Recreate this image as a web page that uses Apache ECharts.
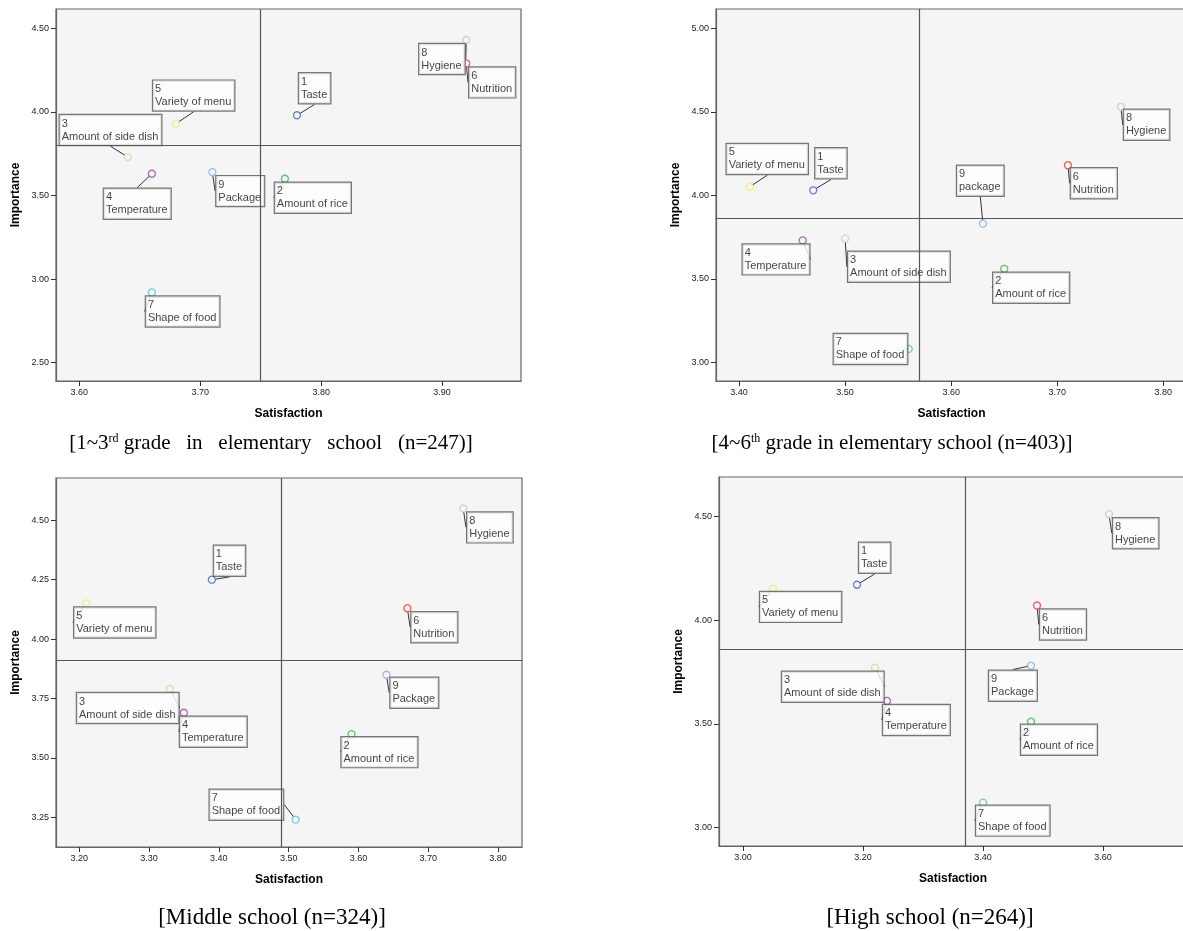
<!DOCTYPE html>
<html><head><meta charset="utf-8">
<script src="https://cdn.jsdelivr.net/npm/echarts@6/dist/echarts.min.js"></script>
<style>html,body{margin:0;padding:0;background:#fff}#c{width:1183px;height:931px}</style>
</head><body><div id="c"></div>
<script>
// ---- data ----
const names = ['Taste','Amount of rice','Amount of side dish','Temperature','Variety of menu','Nutrition','Shape of food','Hygiene','Package'];
const names2 = ['Taste','Amount of rice','Amount of side dish','Temperature','Variety of menu','Nutrition','Shape of food','Hygiene','package'];
const sat1 = [3.78,3.77,3.64,3.66,3.68,3.92,3.66,3.92,3.71];
const imp1 = [3.98,3.60,3.73,3.63,3.93,4.29,2.92,4.43,3.64];
const sat2 = [3.47,3.65,3.50,3.46,3.41,3.71,3.56,3.76,3.63];
const imp2 = [4.03,3.56,3.74,3.73,4.05,4.18,3.08,4.53,3.83];
const sat3 = [3.39,3.59,3.33,3.35,3.21,3.67,3.51,3.75,3.64];
const imp3 = [4.25,3.60,3.79,3.69,4.15,4.13,3.24,4.55,3.85];
const sat4 = [3.19,3.48,3.22,3.24,3.05,3.49,3.40,3.61,3.48];
const imp4 = [4.17,3.51,3.77,3.61,4.15,4.07,3.12,4.51,3.78];
const meanSat = [3.75,3.57,3.49,3.37];
const meanImp = [3.80,3.86,3.91,3.86];
const xTicks1 = [3.6,3.7,3.8,3.9];
const yTicks1 = [2.5,3.0,3.5,4.0,4.5];
const xTicks2 = [3.4,3.5,3.6,3.7,3.8];
const yTicks2 = [3.0,3.5,4.0,4.5,5.0];
const xTicks3 = [3.2,3.3,3.4,3.5,3.6,3.7,3.8];
const yTicks3 = [3.25,3.5,3.75,4.0,4.25,4.5];
const xTicks4 = [3.0,3.2,3.4,3.6];
const yTicks4 = [3.0,3.5,4.0,4.5];
const captions = ['[1~3{sup|rd} grade   in   elementary   school   (n=247)]','[4~6{sup|th} grade in elementary school (n=403)]','[Middle school (n=324)]','[High school (n=264)]'];

// ---- layout / style ----
const colors = ['#4a64c4','#3cb44b','#d8d49c','#9a4a9e','#f0ec70','#ee3b3f','#50c4c8','#c8c8c8','#86b0dc'];
const grids = [
  {left:56, top:9, width:465, height:372, xr:[3.5807,3.9653], yr:[2.3905,4.6154]},
  {left:716, top:9, width:471, height:372, xr:[3.3783,3.8223], yr:[2.888,5.1156]},
  {left:56, top:478, width:466, height:369, xr:[3.1668,3.8342], yr:[3.125,4.678]},
  {left:719, top:477, width:468, height:369, xr:[2.96,3.74], yr:[2.911,4.6894]}
];
const offs = [
  [[2,-42],[-10,4],[-68,-42],[-48,15],[-23,-43],[3,4],[-6,4],[-47,4],[4,4]],
  [[2,-42],[-11,4],[3,13],[-60,4],[-23,-43],[3,3],[-75,-15],[3,3],[-26,-58]],
  [[2,-34],[-10,3],[-93,4],[-4,4],[-12,4],[4,4],[-86,-30],[4,4],[4,3]],
  [[2,-42],[-10,3],[-93,4],[-4,4],[-13,3],[3,4],[-7,3],[4,4],[-42,5]]
];
const capPos = [[271,443],[892,443],[272,918],[930,918]];
const capSize = [21,21,23,23];

const sats = [sat1,sat2,sat3,sat4], imps = [imp1,imp2,imp3,imp4];
const nameSets = [names,names2,names,names];
const xT = [xTicks1,xTicks2,xTicks3,xTicks4], yT = [yTicks1,yTicks2,yTicks3,yTicks4];

const chart = echarts.init(document.getElementById('c'));
const option = {animation:false, grid:[], xAxis:[], yAxis:[], series:[], graphic:[]};
const tickFont = {fontSize:9, color:'#222', fontFamily:'Liberation Sans, Arial'};
grids.forEach((g,k)=>{
  option.grid.push({left:g.left, top:g.top, width:g.width, height:g.height, show:true,
    backgroundColor:'#f5f5f5', borderColor:'#666', borderWidth:1.2, outerBoundsMode:'none', containLabel:false});
  option.xAxis.push({type:'value', gridIndex:k, min:g.xr[0], max:g.xr[1],
    name:'Satisfaction', nameLocation:'middle', nameGap:27,
    nameTextStyle:{fontWeight:'bold', fontSize:12, color:'#000', fontFamily:'Liberation Sans, Arial'},
    axisLine:{show:true, lineStyle:{color:'#666', width:1.2}},
    axisTick:{show:true, length:5, customValues:xT[k], lineStyle:{color:'#333'}},
    axisLabel:Object.assign({customValues:xT[k], margin:7, formatter:v=>v.toFixed(2)}, tickFont),
    splitLine:{show:false}});
  option.yAxis.push({type:'value', gridIndex:k, min:g.yr[0], max:g.yr[1],
    name:'Importance', nameLocation:'middle', nameGap:34,
    nameTextStyle:{fontWeight:'bold', fontSize:12, color:'#000', fontFamily:'Liberation Sans, Arial'},
    axisLine:{show:true, lineStyle:{color:'#666', width:1.2}},
    axisTick:{show:true, length:5, customValues:yT[k], lineStyle:{color:'#333'}},
    axisLabel:Object.assign({customValues:yT[k], margin:7, formatter:v=>v.toFixed(2)}, tickFont),
    splitLine:{show:false}});
  const off = offs[k];
  option.series.push({
    type:'scatter', xAxisIndex:k, yAxisIndex:k, symbol:'circle', symbolSize:7,
    data: sats[k].map((s,i)=>({value:[s, imps[k][i]], name:nameSets[k][i],
      itemStyle:{color:'rgba(0,0,0,0)', borderColor:colors[i], borderWidth:1.3}})),
    label:{show:true, formatter:p=>(p.dataIndex+1)+'\n'+p.name, fontSize:11, lineHeight:13,
      fontFamily:'Liberation Sans, Arial', color:'#111', backgroundColor:'#fff',
      borderColor:'#555', borderWidth:1.2, padding:[2,3,2,2], align:'left', verticalAlign:'top'},
    labelLine:{show:true, length2:0, lineStyle:{color:'#333', width:1}},
    labelLayout: function(p){
      const o = off[p.dataIndex];
      const cx = p.rect.x + p.rect.width/2, cy = p.rect.y + p.rect.height/2;
      return {x: cx + o[0], y: cy + o[1], align:'left', verticalAlign:'top'};
    },
    markLine:{silent:true, symbol:'none', animation:false, label:{show:false},
      lineStyle:{color:'#555', width:1.2, type:'solid'},
      data:[{xAxis:meanSat[k]},{yAxis:meanImp[k]}]},
    z:3
  });
  option.graphic.push({type:'text', x:capPos[k][0], y:capPos[k][1],
    style:{text:captions[k], fontSize:capSize[k], fontFamily:'Liberation Serif, Times New Roman', fill:'#000',
      align:'center', verticalAlign:'middle',
      rich:{sup:{fontSize:Math.round(capSize[k]*0.58), verticalAlign:'top', fontFamily:'Liberation Serif, Times New Roman', padding:[0,0,8,0]}}}});
});
chart.setOption(option);
</script></body></html>
